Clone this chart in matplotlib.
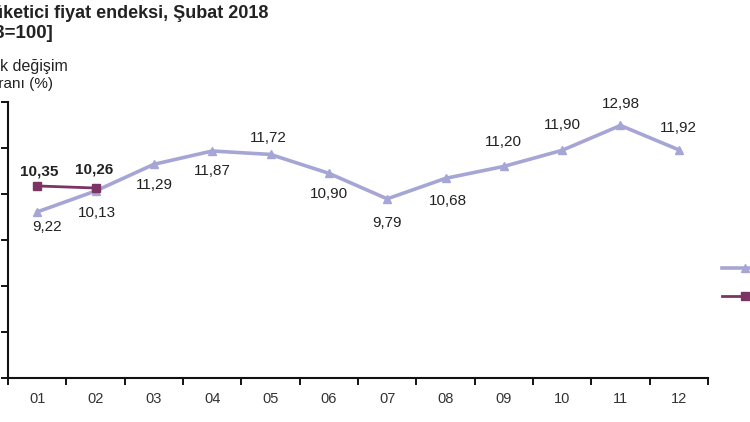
import matplotlib
matplotlib.use("Agg")
import matplotlib.pyplot as plt
import numpy as np

plt.rcParams['font.family'] = ['Liberation Sans', 'DejaVu Sans']

months = ["01", "02", "03", "04", "05", "06", "07", "08", "09", "10", "11", "12"]
values_2017 = [9.22, 10.13, 11.29, 11.87, 11.72, 10.90, 9.79, 10.68, 11.20, 11.90, 12.98, 11.92]
values_2018 = [10.35, 10.26]
series_labels = ["2017", "2018"]

# label offsets in pixels (dx, dy), positive dy = above the point
offs_2017 = [(10, -15), (1, -22), (1, -21), (0, -20), (-2, 16), (0, -21),
             (0, -24), (2, -23), (0, 24), (0, 25), (0, 21), (0, 22)]
offs_2018 = [(2, 14), (-1, 19)]

c17 = "#a6a6d6"
c18 = "#7b3464"

DPI = 100
fig = plt.figure(figsize=(7.5, 4.22), dpi=DPI)
ax = fig.add_axes([8/750, 1-378/422, 700/750, (378-102)/422])

x17 = np.arange(len(values_2017))
x18 = np.arange(len(values_2018))
l1, = ax.plot(x17, values_2017, color=c17, lw=2.6, marker="^", ms=5.5, zorder=2)
l2, = ax.plot(x18, values_2018, color=c18, lw=2.0, marker="s", ms=5.5, zorder=3)

px = 72.0 / DPI

def fmt(v):
    return f"{v:.2f}".replace(".", ",")

for xi, v, (dx, dy) in zip(x17, values_2017, offs_2017):
    ax.annotate(fmt(v), (xi, v), xytext=(dx*px, dy*px), textcoords="offset points",
                ha="center", va="center", fontsize=11, color="#222222")
for xi, v, (dx, dy) in zip(x18, values_2018, offs_2018):
    ax.annotate(fmt(v), (xi, v), xytext=(dx*px, dy*px), textcoords="offset points",
                ha="center", va="center", fontsize=11, fontweight="bold", color="#222222")

ax.set_xlim(-0.5, len(months) - 0.5)
ax.set_ylim(2, 14)
ax.set_yticks(np.arange(2, 15, 2))
ax.set_yticklabels([str(t) for t in range(2, 15, 2)])
ax.set_xticks(x17)
ax.set_xticklabels(months, fontsize=10.5, color="#333333")
ax.set_xticks(np.arange(-0.5, len(months), 1), minor=True)
ax.tick_params(axis="x", which="major", length=0, pad=10)
ax.tick_params(axis="x", which="minor", length=5, width=1.3, direction="out")
ax.tick_params(axis="y", length=5, width=1.3, direction="out")
for s in ["top", "right"]:
    ax.spines[s].set_visible(False)
for s in ["left", "bottom"]:
    ax.spines[s].set_linewidth(1.5)
    ax.spines[s].set_color("#111111")

# titles (right-aligned to reproduce the cropped layout)
fig.text(268/750, 1-14/422, "Tüketici fiyat endeksi, Şubat 2018", ha="right", va="center",
         fontsize=13, fontweight="bold", color="#222222")
fig.text(53/750, 1-33/422, "[2003=100]", ha="right", va="center",
         fontsize=13.5, fontweight="bold", color="#222222")
fig.text(68/750, 1-66/422, "Yıllık değişim", ha="right", va="center", fontsize=11.5, color="#222222")
fig.text(53/750, 1-84/422, "oranı (%)", ha="right", va="center", fontsize=11, color="#222222")

fig.legend([l1, l2], series_labels, loc="center left", bbox_to_anchor=(722/750, 1-283/422),
           frameon=False, borderpad=0, borderaxespad=0, handlelength=3.3, labelspacing=1.0,
           fontsize=10)

fig.savefig("out.png", dpi=DPI)
